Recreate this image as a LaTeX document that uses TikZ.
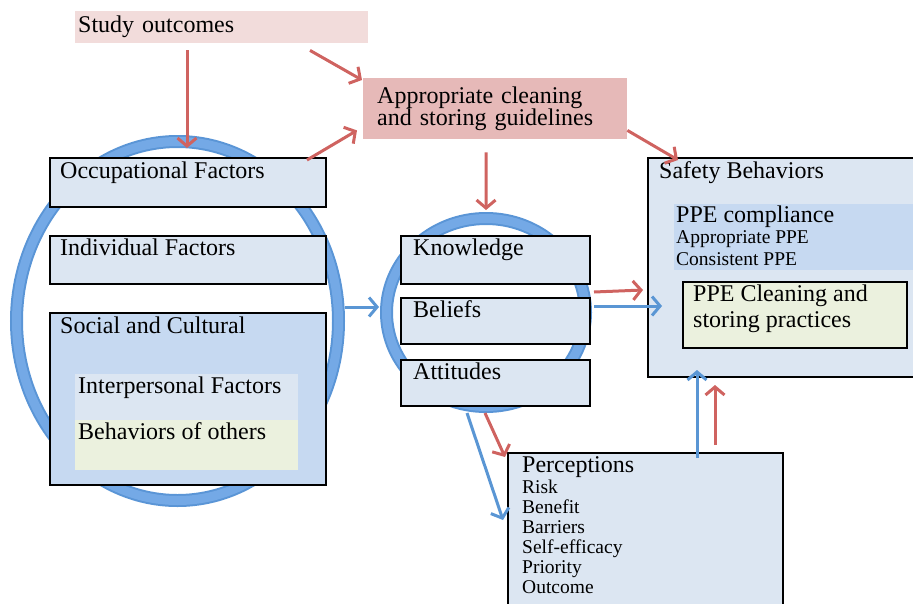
\documentclass[tikz,border=0pt]{standalone}
\usepackage{fontspec}
\setmainfont{Liberation Serif}
\usetikzlibrary{positioning,arrows.meta}

\definecolor{paleblue}{HTML}{DCE6F2}
\definecolor{midblue}{HTML}{C6D9F1}
\definecolor{palegreen}{HTML}{EBF1DE}
\definecolor{palepink}{HTML}{F2DCDB}
\definecolor{rosebox}{HTML}{E6B9B8}
\definecolor{ringdark}{HTML}{5A95D6}
\definecolor{ringlight}{HTML}{74A9E6}
\definecolor{arrowred}{HTML}{CF6360}
\definecolor{arrowblue}{HTML}{5A96D4}

\tikzset{
  fbox/.style={draw=black, line width=2pt, fill=paleblue, anchor=north west, inner sep=0pt},
  band/.style={anchor=north west, inner sep=0pt},
  lbl/.style={anchor=base west, inner sep=0pt, font=\fontsize{24}{26}\selectfont},
  sml/.style={anchor=base west, inner sep=0pt, font=\fontsize{19.5}{21}\selectfont},
  redarrow/.style={draw=arrowred, line width=3pt, -{Straight Barb[length=8pt,width=19pt]}},
  bluearrow/.style={draw=arrowblue, line width=3pt, -{Straight Barb[length=8pt,width=19pt]}},
  ring/.style={ringdark, line width=13pt},
  ringhi/.style={ringlight, line width=9pt},
}

\begin{document}
\begin{tikzpicture}[x=1pt, y=-1pt]
\useasboundingbox (0,0) rectangle (913,603);

% the two rings
\draw[ring] (177.5,321) ellipse [x radius=161pt, y radius=179.5pt];
\draw[ringhi] (177.5,321) ellipse [x radius=161pt, y radius=179.5pt];
\draw[ring] (486,312.5) ellipse [x radius=99.5pt, y radius=94pt];
\draw[ringhi] (486,312.5) ellipse [x radius=99.5pt, y radius=94pt];

% top boxes
\node[band, fill=palepink, minimum height=32pt, text width=287pt, inner xsep=3pt, align=left,
      font=\fontsize{24}{26}\selectfont] (study) at (75,11) {Study outcomes};
\node[band, fill=rosebox, minimum height=61pt, text width=236pt, inner xsep=14pt, align=left,
      font=\fontsize{24}{22}\selectfont] (guide) at (363,78) {Appropriate cleaning\\and storing guidelines};

% factors inside the big ring
\node[fbox, minimum width=276pt, minimum height=49pt] (occ) at (49,157) {};
\node[lbl] (occtext) at ([shift={(11,21)}]occ.north west) {Occupational Factors};
\node[fbox, minimum width=276pt, minimum height=48pt] (indiv) at (49,235) {};
\node[lbl] (indivtext) at ([shift={(11,20)}]indiv.north west) {Individual Factors};
\node[fbox, fill=midblue, minimum width=276pt, minimum height=172pt] (social) at (49,312) {};
\node[lbl] (socialtext) at ([shift={(11,21)}]social.north west) {Social and Cultural};
\node[band, fill=paleblue, minimum width=223pt, minimum height=46pt] (inter) at (75,374) {};
\node[lbl] (intertext) at ([shift={(3,19)}]inter.north west) {Interpersonal Factors};
\node[band, fill=palegreen, minimum width=223pt, minimum height=50pt] (others) at (75,420) {};
\node[lbl] (otherstext) at ([shift={(3,19)}]others.north west) {Behaviors of others};

% small ring
\node[fbox, minimum width=189pt, minimum height=48pt] (know) at (400,235) {};
\node[lbl] (knowtext) at ([shift={(13,20)}]know.north west) {Knowledge};
\node[fbox, minimum width=189pt, minimum height=46pt] (belief) at (400,297) {};
\node[lbl] (belieftext) at ([shift={(13,20)}]belief.north west) {Beliefs};
\node[fbox, minimum width=189pt, minimum height=46pt] (attit) at (400,359) {};
\node[lbl] (attittext) at ([shift={(13,20)}]attit.north west) {Attitudes};

% safety behaviors
\node[fbox, minimum width=275pt, minimum height=219pt] (safety) at (647,157) {};
\node[lbl] (safetytext) at ([shift={(12,21)}]safety.north west) {Safety Behaviors};
\node[band, fill=midblue, minimum width=245pt, minimum height=66pt] (ppe) at (674,204) {};
\node[lbl] (ppetext) at ([shift={(2,18)}]ppe.north west) {PPE compliance};
\node[sml] (ppeone) at ([shift={(2,39)}]ppe.north west) {Appropriate PPE};
\node[sml] (ppetwo) at ([shift={(2,61)}]ppe.north west) {Consistent PPE};
\node[fbox, fill=palegreen, minimum width=224pt, minimum height=66pt] (clean) at (682,281) {};
\node[lbl] (cleanone) at ([shift={(11,20)}]clean.north west) {PPE Cleaning and};
\node[lbl] (cleantwo) at ([shift={(11,46)}]clean.north west) {storing practices};

% perceptions
\node[fbox, minimum width=275pt, minimum height=160pt] (percep) at (507,452) {};
\node[lbl] (perceptext) at ([shift={(15,20)}]percep.north west) {Perceptions};
\foreach \w [count=\i] in {Risk,Benefit,Barriers,Self-efficacy,Priority,Outcome}
  \node[sml] (perc\i) at ([shift={(15,21+20*\i)}]percep.north west) {\w};

% free ends on the rings
\coordinate (bigtop) at (187,148);
\coordinate (bigeast) at (345,307);
\coordinate (smallwest) at (379,307);
\coordinate (smalltop) at (486,210);
\coordinate (smallbotA) at (485,413);
\coordinate (smallbotB) at (467,413);

% red arrows
\draw[redarrow] ([shift={(112,7)}]study.south west) -- (bigtop);
\draw[redarrow] ([shift={(235,7)}]study.south west) -- ([shift={(-1,2)}]guide.north west);
\draw[redarrow] ([shift={(-20,3)}]occ.north east) -- ([shift={(-6,-9)}]guide.south west);
\draw[redarrow] ([shift={(-9,13)}]guide.south) -- (smalltop);
\draw[redarrow] ([shift={(0,-9)}]guide.south east) -- ([shift={(31,3)}]safety.north west);
\draw[redarrow] ([shift={(3,7)}]know.south east) -- ([shift={(-4,133)}]safety.north west);
\draw[redarrow] ([shift={(208,-7)}]percep.north west) -- ([shift={(68,7)}]safety.south west);
\draw[redarrow] (smallbotA) -- ([shift={(-2,5)}]percep.north west);

% blue arrows
\draw[bluearrow] (bigeast) -- (smallwest);
\draw[bluearrow] ([shift={(3,9)}]belief.north east) -- ([shift={(15,149)}]safety.north west);
\draw[bluearrow] ([shift={(190,6)}]percep.north west) -- ([shift={(50,-8)}]safety.south west);
\draw[bluearrow] (smallbotB) -- ([shift={(-4,68)}]percep.north west);
\end{tikzpicture}
\end{document}
